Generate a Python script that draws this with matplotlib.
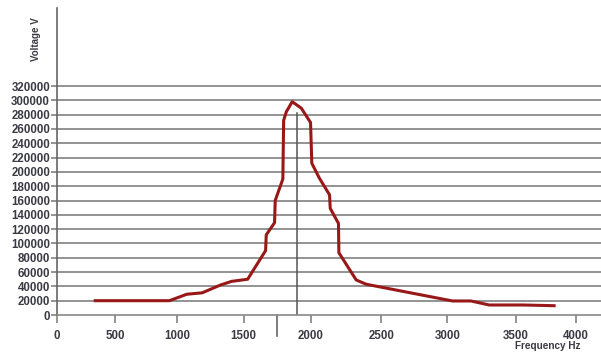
import numpy as np
import matplotlib
matplotlib.use('Agg')
import matplotlib.pyplot as plt

# 측정 데이터 (주파수 Hz, 전압 V)
freq = [330, 940, 1075, 1190, 1328, 1410, 1530, 1664, 1669, 1731, 1736, 1793,
        1799, 1819, 1863, 1931, 2000, 2009, 2063, 2134, 2139, 2197, 2200,
        2322, 2392, 2636, 3038, 3172, 3304, 3553, 3817]
voltage = [20000, 20000, 29000, 31000, 42000, 47000, 50000, 90000, 112000,
           129000, 160000, 190000, 272000, 284000, 298000, 289000, 269000,
           212000, 191000, 168000, 149000, 128000, 87000, 49000, 43000,
           34000, 19600, 19600, 14000, 14000, 13000]

peak_freq = 1900
peak_mark = 282000
cut_freq = 1750

x_ticks = [0, 500, 1000, 1500, 2000, 2500, 3000, 3500, 4000]
y_ticks = list(range(0, 320001, 20000))

# 원본 그림의 눈금 간격이 일정하지 않아서 구간별 선형 스케일 사용
knot_val = np.array([0, 500, 1000, 1500, 2000, 2500, 3000, 3500, 4000, 4200])
knot_pos = np.array([0, 58, 120, 187, 254, 325, 391, 460, 520, 545.0])


def fwd(v):
    return np.interp(v, knot_val, knot_pos)


def inv(p):
    return np.interp(p, knot_pos, knot_val)


plt.rcParams['font.family'] = ['Liberation Sans', 'DejaVu Sans']
text_color = '#3a3a44'

fig = plt.figure(figsize=(6.01, 3.52), dpi=100)
ax = fig.add_axes([57 / 601, 37 / 352, 544 / 601, 307 / 352])

ax.set_xscale('function', functions=(fwd, inv))
ax.set_xlim(0, 4200)
ax.set_ylim(0, 429000)

# 가로 격자선
for y in y_ticks[1:]:
    ax.axhline(y, color='#8a8a8a', lw=1.3, zorder=1)

ax.plot(freq, voltage, color='#981818', lw=2.2, zorder=3)
ax.plot([peak_freq, peak_freq], [0, peak_mark], color='#555555', lw=1.1, zorder=2)
ax.axvline(cut_freq, ymin=-0.068, ymax=0, color='#666666', lw=1.2, clip_on=False)

ax.set_xticks(x_ticks)
ax.set_xticklabels([str(v) for v in x_ticks], fontweight='bold')
ax.set_yticks(y_ticks)
ax.set_yticklabels([str(v) for v in y_ticks], fontweight='bold')

for s in ['top', 'right']:
    ax.spines[s].set_visible(False)
ax.spines['left'].set_color('#666666')
ax.spines['bottom'].set_color('#888888')
ax.spines['left'].set_linewidth(1.2)
ax.spines['bottom'].set_linewidth(1.2)

ax.tick_params(axis='x', length=6, width=1.1, color='#777777', pad=5,
               labelsize=8.3, labelcolor=text_color)
ax.tick_params(axis='y', length=4, width=1.1, color='#777777', pad=1,
               labelsize=8.3, labelcolor=text_color)

fig.text(36 / 601, 1 - 39 / 352, 'Voltage V', rotation=90, ha='center', va='center',
         fontsize=7, color=text_color, fontweight='bold')
fig.text(548 / 601, 1 - 346 / 352, 'Frequency Hz', ha='center', va='center',
         fontsize=7.2, color=text_color, fontweight='bold')

fig.savefig('out.png', dpi=100)
